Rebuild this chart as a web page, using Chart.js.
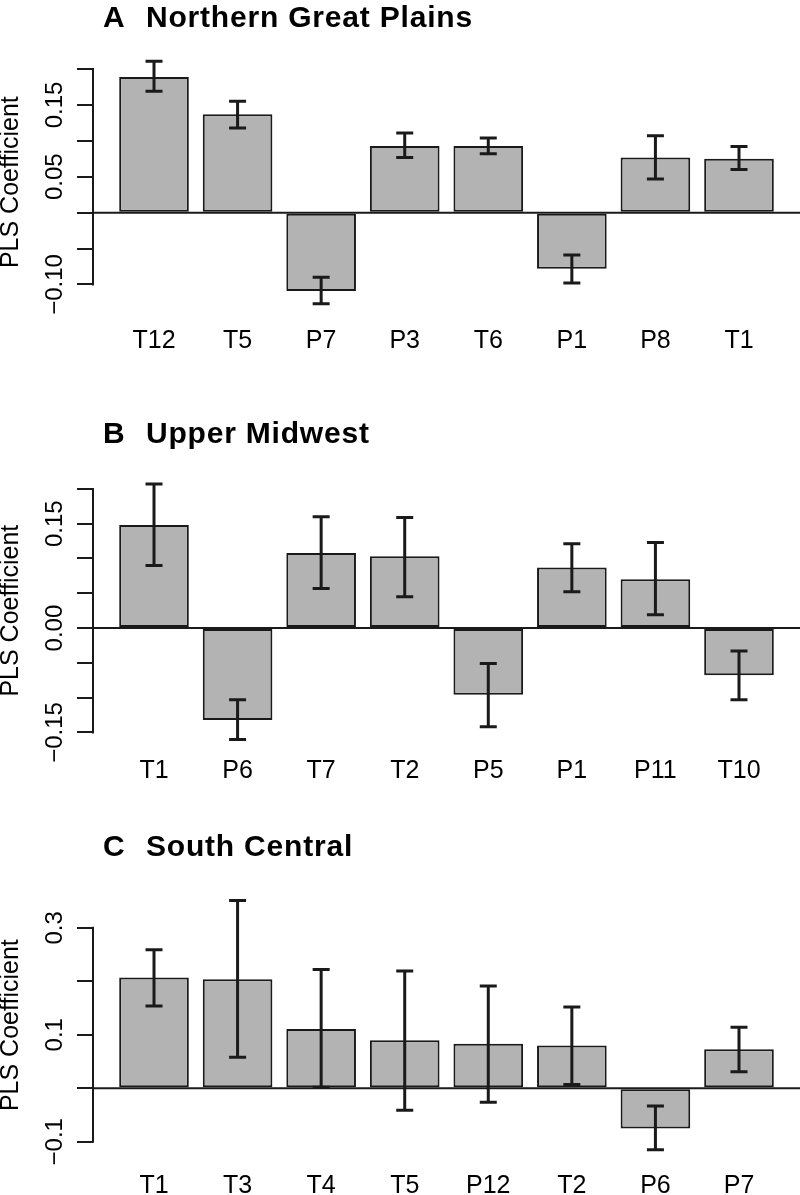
<!DOCTYPE html>
<html><head><meta charset="utf-8">
<script src="https://cdn.jsdelivr.net/npm/chart.js@4/dist/chart.umd.min.js"></script>
<style>
html,body{margin:0;padding:0;background:#fff;}
#wrap{position:relative;width:800px;height:1195px;overflow:hidden;background:#fff;}
canvas{position:absolute;left:0;}
</style></head><body>
<div id="wrap">
<canvas id="cA" width="800" height="380" style="top:0px"></canvas>
<canvas id="cB" width="800" height="410" style="top:380px"></canvas>
<canvas id="cC" width="800" height="405" style="top:790px"></canvas>
</div>
<script>
// ---------- data ----------
const panelLetters = ['A', 'B', 'C'];
const panelNames = ['Northern Great Plains', 'Upper Midwest', 'South Central'];
const yAxisTitle = 'PLS Coefficient';

const catsA = ['T12', 'T5', 'P7', 'P3', 'T6', 'P1', 'P8', 'T1'];
const valsA = [0.189, 0.137, -0.109, 0.093, 0.093, -0.078, 0.077, 0.075];
const hiA   = [0.211, 0.155, -0.090, 0.111, 0.104, -0.059, 0.107, 0.092];
const loA   = [0.169, 0.118, -0.127, 0.077, 0.082, -0.098, 0.047, 0.060];
const ticksA = [-0.10, -0.05, 0, 0.05, 0.10, 0.15, 0.20];
const tickLabelsA = ['\u22120.10', '', '', '0.05', '', '0.15', ''];

const catsB = ['T1', 'P6', 'T7', 'T2', 'P5', 'P1', 'P11', 'T10'];
const valsB = [0.148, -0.132, 0.108, 0.103, -0.096, 0.087, 0.070, -0.068];
const hiB   = [0.207, -0.103, 0.160, 0.159, -0.051, 0.121, 0.123, -0.033];
const loB   = [0.090, -0.160, 0.057, 0.045, -0.142, 0.052, 0.019, -0.103];
const ticksB = [-0.15, -0.10, -0.05, 0, 0.05, 0.10, 0.15, 0.20];
const tickLabelsB = ['\u22120.15', '', '', '0.00', '', '', '0.15', ''];

const catsC = ['T1', 'T3', 'T4', 'T5', 'P12', 'T2', 'P6', 'P7'];
const valsC = [0.207, 0.204, 0.111, 0.090, 0.083, 0.080, -0.075, 0.073];
const hiC   = [0.259, 0.351, 0.222, 0.219, 0.191, 0.152, -0.033, 0.114];
const loC   = [0.154, 0.058, 0.002, -0.041, -0.026, 0.007, -0.115, 0.031];
const ticksC = [-0.1, 0, 0.1, 0.2, 0.3];
const tickLabelsC = ['\u22120.1', '', '0.1', '', '0.3'];

// ---------- drawing ----------
const FONT = '"Liberation Sans", Arial, Helvetica, sans-serif';
const INK = '#1a1a1a';
const measure = document.createElement('canvas').getContext('2d');
measure.font = '24px ' + FONT;

// R barplot convention: width 1, space 0.2
const barPos = i => 0.7 + 1.2 * i;

function makePanel(id, p) {
  const H = document.getElementById(id).height;
  const xAxisH = H - p.bottom;
  const widest = Math.max(...p.tickLabels.map(t => measure.measureText(t).width));
  const yTickPad = (93 - 16 - 55.5) - widest / 2;

  const panelPlugin = {
    id: 'panelExtras' + id,
    afterDatasetsDraw(chart) {
      const {ctx, chartArea, scales: {x, y}} = chart;
      ctx.save();
      // zero line
      ctx.strokeStyle = INK; ctx.lineWidth = 2; ctx.lineCap = 'butt';
      const y0 = y.getPixelForValue(0);
      ctx.beginPath(); ctx.moveTo(chartArea.left, y0); ctx.lineTo(chartArea.right, y0); ctx.stroke();
      // y axis line from first to last tick
      ctx.lineCap = 'square';
      ctx.beginPath();
      ctx.moveTo(chartArea.left, y.getPixelForValue(p.ticks[0]));
      ctx.lineTo(chartArea.left, y.getPixelForValue(p.ticks[p.ticks.length - 1]));
      ctx.stroke();
      // error bars
      ctx.lineWidth = 3; ctx.lineCap = 'butt';
      p.cats.forEach((c, i) => {
        const xp = x.getPixelForValue(barPos(i));
        const yh = y.getPixelForValue(p.hi[i]);
        const yl = y.getPixelForValue(p.lo[i]);
        ctx.beginPath();
        ctx.moveTo(xp, yh); ctx.lineTo(xp, yl);
        ctx.moveTo(xp - 8.5, yh); ctx.lineTo(xp + 8.5, yh);
        ctx.moveTo(xp - 8.5, yl); ctx.lineTo(xp + 8.5, yl);
        ctx.stroke();
      });
      ctx.restore();
    },
    afterDraw(chart) {
      const ctx = chart.ctx;
      ctx.save();
      ctx.fillStyle = '#000';
      ctx.font = 'bold 30px ' + FONT;
      ctx.textBaseline = 'alphabetic';
      ctx.textAlign = 'left';
      try { ctx.letterSpacing = '0.8px'; } catch (e) {}
      ctx.fillText(p.letter, 103, p.titleBase);
      ctx.fillText(p.name, 146, p.titleBase);
      ctx.restore();
    }
  };

  return new Chart(document.getElementById(id), {
    type: 'bar',
    data: {
      datasets: [{
        data: p.cats.map((c, i) => ({x: barPos(i), y: p.vals[i]})),
        backgroundColor: '#b3b3b3',
        borderColor: INK,
        borderWidth: 2,
        borderSkipped: false,
        categoryPercentage: 1,
        barPercentage: 1 / 1.2
      }]
    },
    options: {
      responsive: false,
      animation: false,
      events: [],
      layout: {padding: {top: p.top, bottom: 0, left: 0, right: 0}},
      plugins: {legend: {display: false}, tooltip: {enabled: false}, title: {display: false}},
      scales: {
        x: {
          type: 'linear',
          offset: false,
          min: -0.176, max: 9.976,
          grid: {display: false, drawTicks: false, offset: false},
          border: {display: false},
          afterBuildTicks: s => { s.ticks = p.cats.map((c, i) => ({value: barPos(i)})); },
          afterFit: s => { s.height = xAxisH; },
          ticks: {
            autoSkip: false, maxRotation: 0, minRotation: 0,
            padding: p.xPad,
            color: '#000',
            font: {family: FONT, size: 25},
            callback: (v, i) => p.cats[i]
          }
        },
        y: {
          type: 'linear',
          min: p.ymin, max: p.ymax,
          afterBuildTicks: s => { s.ticks = p.ticks.map(v => ({value: v})); },
          afterFit: s => { s.width = 93; },
          grid: {display: true, drawOnChartArea: false, drawTicks: true, tickLength: 16, tickWidth: 2, tickColor: INK, color: INK, lineWidth: 2},
          border: {display: false},
          ticks: {
            autoSkip: false,
            minRotation: 90, maxRotation: 90,
            crossAlign: 'center',
            padding: yTickPad,
            color: '#000',
            font: {family: FONT, size: 24},
            callback: (v, i) => p.tickLabels[i]
          },
          title: {
            display: true, text: yAxisTitle, color: '#000',
            font: {family: FONT, size: 25, lineHeight: 0.9},
            padding: 0
          }
        }
      }
    },
    plugins: [panelPlugin]
  });
}

makePanel('cA', {letter: panelLetters[0], name: panelNames[0], cats: catsA, vals: valsA, hi: hiA, lo: loA,
  ticks: ticksA, tickLabels: tickLabelsA, ymin: -0.135, ymax: 0.22, top: 54.7, bottom: 309.6, xPad: 16.5, titleBase: 26.5});
makePanel('cB', {letter: panelLetters[1], name: panelNames[1], cats: catsB, vals: valsB, hi: hiB, lo: loB,
  ticks: ticksB, tickLabels: tickLabelsB, ymin: -0.18, ymax: 0.23, top: 88, bottom: 373.3, xPad: 3.3, titleBase: 63.3});
makePanel('cC', {letter: panelLetters[2], name: panelNames[2], cats: catsC, vals: valsC, hi: hiC, lo: loC,
  ticks: ticksC, tickLabels: tickLabelsC, ymin: -0.144, ymax: 0.38, top: 95, bottom: 375.3, xPad: 5.8, titleBase: 66});
</script>
</body></html>
